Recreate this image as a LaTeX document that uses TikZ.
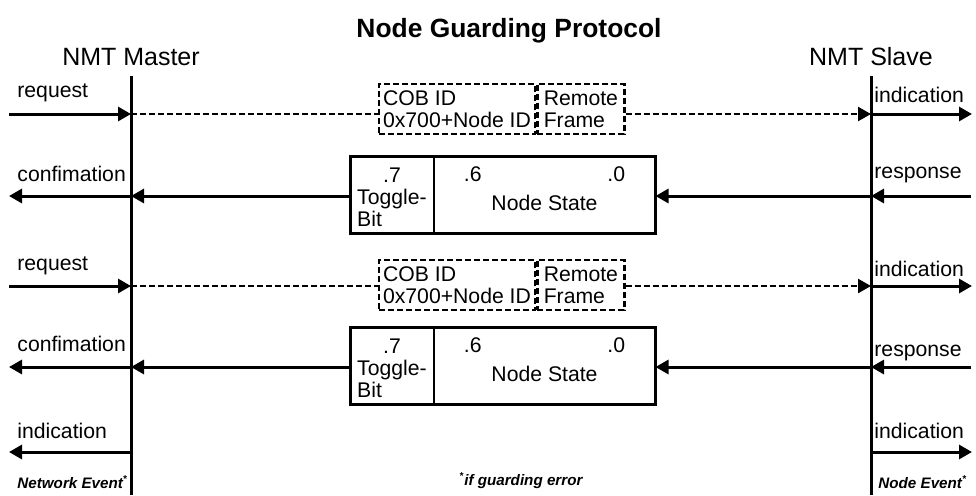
\documentclass[tikz,border=0pt]{standalone}
\usepackage{fontspec}
\setmainfont{Liberation Sans}
\usetikzlibrary{arrows.meta, positioning, calc}

\newcommand{\gmark}{\textsuperscript{\fontsize{5}{5}\selectfont *}}

\begin{document}
\begin{tikzpicture}[
    x=0.5pt, y=-0.5pt,
    every node/.style={font=\fontsize{10.6}{11}\selectfont, inner sep=0pt},
    lbl/.style={anchor=base west},
    head/.style={anchor=base, font=\fontsize{12.5}{14}\selectfont},
    evt/.style={anchor=base west, font=\fontsize{7.6}{9}\selectfont\bfseries\itshape},
    life/.style={line width=1.5pt},
    msg/.style={line width=1.5pt, -{Triangle[length=6.5pt, width=7pt]}},
    rline/.style={line width=1.2pt, dash pattern=on 3pt off 1.5pt},
    rmsg/.style={rline, -{Triangle[length=6.5pt, width=7pt]}},
    cell/.style={rectangle, draw, rline, minimum height=25pt, align=left},
    bitcell/.style={rectangle, draw, line width=0.5pt, minimum height=38pt},
    frame/.style={line width=1.5pt}
]
\useasboundingbox (0,0) rectangle (976,495);

% Title and lifelines
\node[anchor=base, font=\fontsize{13.2}{15}\selectfont\bfseries] (title) at (509,37)
    {Node Guarding Protocol};
\coordinate (mtop) at (131,76);
\coordinate (mbot) at (131,495);
\coordinate (stop) at (871,76);
\coordinate (sbot) at (871,495);
\node[head] (master) at (131,65) {NMT Master};
\node[head] (slave) at (871,65) {NMT Slave};
\draw[life] (mtop) -- (mbot);
\draw[life] (stop) -- (sbot);

% Request 1
\node[cell, minimum width=78pt] (cob1) at (457,109) {COB ID\\0x700+Node ID};
\node[cell, minimum width=43.5pt, right=0pt of cob1] (rem1) {Remote\\Frame};
\coordinate (lreq1) at (9,114);
\coordinate (mreq1) at (131,114);
\coordinate (sreq1) at (871,114);
\coordinate (rreq1) at (972,114);
\draw[msg] (lreq1) -- (mreq1);
\draw[rline] (mreq1) -- (mreq1 -| cob1.west);
\draw[rmsg] (rem1.east |- sreq1) -- (sreq1);
\draw[msg] (sreq1) -- (rreq1);
\node[lbl] (req1) at (17,97) {request};
\node[lbl] (ind1) at (874,102) {indication};

% Response 1
\node[bitcell, minimum width=41pt] (tog1) at (392,195) {};
\node[bitcell, minimum width=110.5pt, right=0pt of tog1] (nst1) {};
\draw[frame] (tog1.north west) rectangle (nst1.south east);
\node (tgl1) at ($(tog1.center)+(0,5)$)
    {\begin{tabular}{@{}l@{}}\multicolumn{1}{@{}c@{}}{.7}\\Toggle-\\Bit\end{tabular}};
\node[anchor=base west] (hi1) at ($(nst1.north west)+(30,25)$) {.6};
\node[anchor=base east] (lo1) at ($(nst1.north east)+(-30,25)$) {.0};
\node[anchor=base] (st1) at ($(nst1.center)+(0,15)$) {Node State};
\coordinate (lres1) at (9,196);
\coordinate (mres1) at (131,196);
\coordinate (sres1) at (871,196);
\coordinate (rres1) at (971,196);
\draw[msg] (rres1) -- (sres1);
\draw[msg] (sres1) -- (sres1 -| nst1.east);
\draw[msg] (tog1.west |- mres1) -- (mres1);
\draw[msg] (mres1) -- (lres1);
\node[lbl] (conf1) at (17,181) {confimation};
\node[lbl] (resp1) at (874,178) {response};

% Request 2
\node[cell, minimum width=78pt] (cob2) at (457,285) {COB ID\\0x700+Node ID};
\node[cell, minimum width=43.5pt, right=0pt of cob2] (rem2) {Remote\\Frame};
\coordinate (lreq2) at (9,286);
\coordinate (mreq2) at (131,286);
\coordinate (sreq2) at (871,286);
\coordinate (rreq2) at (972,286);
\draw[msg] (lreq2) -- (mreq2);
\draw[rline] (mreq2) -- (mreq2 -| cob2.west);
\draw[rmsg] (rem2.east |- sreq2) -- (sreq2);
\draw[msg] (sreq2) -- (rreq2);
\node[lbl] (req2) at (17,270) {request};
\node[lbl] (ind2) at (874,276) {indication};

% Response 2
\node[bitcell, minimum width=41pt] (tog2) at (392,366) {};
\node[bitcell, minimum width=110.5pt, right=0pt of tog2] (nst2) {};
\draw[frame] (tog2.north west) rectangle (nst2.south east);
\node (tgl2) at ($(tog2.center)+(0,5)$)
    {\begin{tabular}{@{}l@{}}\multicolumn{1}{@{}c@{}}{.7}\\Toggle-\\Bit\end{tabular}};
\node[anchor=base west] (hi2) at ($(nst2.north west)+(30,25)$) {.6};
\node[anchor=base east] (lo2) at ($(nst2.north east)+(-30,25)$) {.0};
\node[anchor=base] (st2) at ($(nst2.center)+(0,15)$) {Node State};
\coordinate (lres2) at (9,367);
\coordinate (mres2) at (131,367);
\coordinate (sres2) at (871,367);
\coordinate (rres2) at (971,367);
\draw[msg] (rres2) -- (sres2);
\draw[msg] (sres2) -- (sres2 -| nst2.east);
\draw[msg] (tog2.west |- mres2) -- (mres2);
\draw[msg] (mres2) -- (lres2);
\node[lbl] (conf2) at (17,351) {confimation};
\node[lbl] (resp2) at (874,356) {response};

% Guarding error
\coordinate (lind) at (9,452);
\coordinate (mind) at (131,452);
\coordinate (sind) at (871,452);
\coordinate (rind) at (972,452);
\draw[msg] (mind) -- (lind);
\draw[msg] (sind) -- (rind);
\node[lbl] (ind3) at (17,438) {indication};
\node[lbl] (ind4) at (874,438) {indication};
\node[evt] (nwev) at (17,488) {Network Event\gmark};
\node[evt] (ndev) at (878,488) {Node Event\gmark};
\node[evt] (note) at (459,485) {\gmark if guarding error};
\end{tikzpicture}
\end{document}
